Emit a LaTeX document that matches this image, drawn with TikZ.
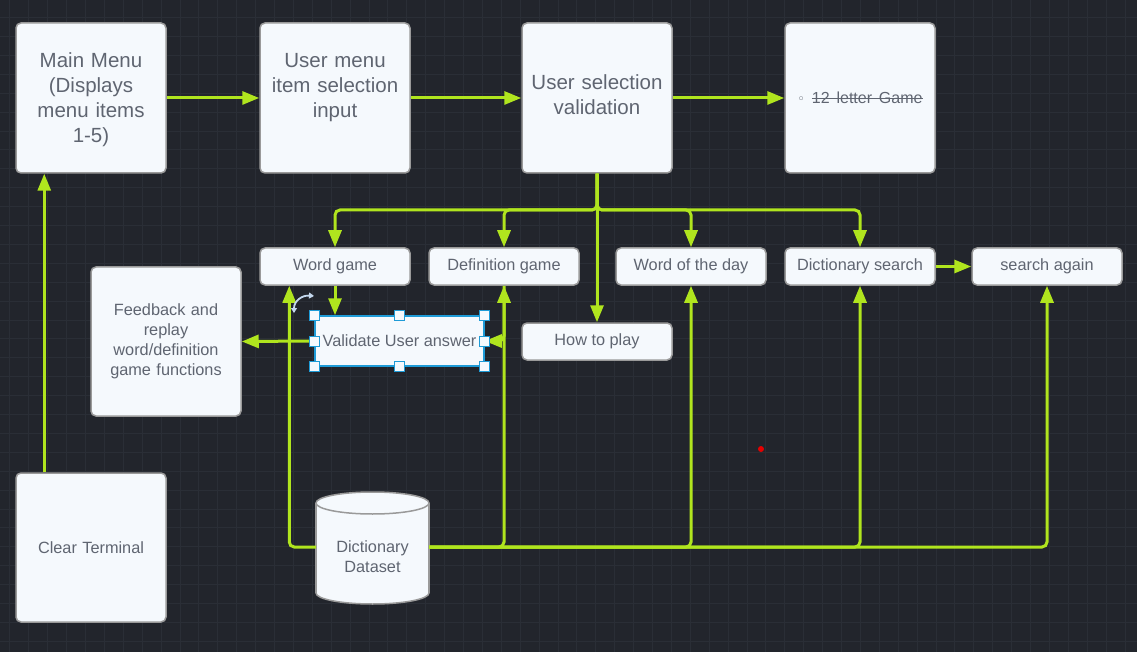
\documentclass[tikz,border=0pt]{standalone}
\usepackage{fontspec}
\setmainfont{Liberation Sans}
\newfontfamily\dejavu{DejaVu Sans}
\usetikzlibrary{arrows.meta}
\definecolor{bg}{HTML}{22252C}
\definecolor{gridc}{HTML}{2A2E36}
\definecolor{boxfill}{HTML}{F5F9FD}
\definecolor{boxline}{HTML}{9A9A9A}
\definecolor{txt}{HTML}{5F6571}
\definecolor{lime}{HTML}{B0E51E}
\definecolor{selblue}{HTML}{1E9BD7}
\definecolor{rotc}{HTML}{C4D8EE}
\newcommand{\mystrike}[1]{{\setbox0\hbox{#1}\rlap{\rule[0.3em]{\wd0}{1.2pt}}\box0}}
\begin{document}
\begin{tikzpicture}[x=1pt,y=-1pt,
  box/.style={draw=boxline, line width=1.5pt, fill=boxfill, rounded corners=5pt, text=txt, align=center, inner sep=0pt},
  big/.style={box, minimum width=150pt, minimum height=150pt, font=\fontsize{20.5}{25}\selectfont, text width=146pt},
  small/.style={box, minimum width=150pt, minimum height=37pt, font=\fontsize{16.3}{20}\selectfont},
  sfont/.style={font=\fontsize{16.3}{20}\selectfont},
  conn/.style={draw=lime, line width=3pt, -{Triangle[length=17pt,width=13pt]}, rounded corners=5pt},
  handle/.style={draw=selblue, fill=boxfill, line width=1pt, minimum size=10pt, inner sep=0pt, rounded corners=0pt},
]
\useasboundingbox (0,0) rectangle (1137,652);
\fill[bg] (0,0) rectangle (1137,652);
\foreach \i in {0,...,60} \draw[gridc, line width=0.7pt] (9.8+18.9*\i,0) -- ++(0,652);
\foreach \j in {-1,...,34} \draw[gridc, line width=0.7pt] (0,17.5+18.9*\j) -- ++(1137,0);

% top row
\node[big] (main) at (91,98) {\rule{0pt}{19pt}Main Menu\\(Displays\\menu items\\1-5)};
\node[big] (umenu) at (335,98) {User menu\\item selection\\input\\[-0.5pt]\mbox{}};
\node[big] (valid) at (597,98) {User selection\\validation\\[-19pt]\mbox{}};
\node[big] (twelve) at (860,98) {\fontsize{16}{20}\selectfont{\dejavu\fontsize{13}{14}\selectfont\char"25E6}\ \mystrike{12 letter Game}};

% second row
\node[small] (word) at (335,266.5) {Word game};
\node[small] (defn) at (504,266.5) {Definition game};
\node[small] (wotd) at (691,266.5) {Word of the day};
\node[small] (dsearch) at (860,266.5) {Dictionary search};
\node[small] (again) at (1047,266.5) {search again};
\node[small] (howto) at (597,341.5) {How to play};

\node[box, sfont, minimum width=150pt, minimum height=149pt, text width=146pt] (feedback) at (166,341.5) {Feedback and\\replay\\word/definition\\game functions};
\node[box, sfont, minimum width=150pt, minimum height=149pt, text width=146pt] (clear) at (91,547.5) {Clear Terminal};

\node[box, sfont, draw=selblue, rounded corners=0pt, minimum width=169pt, minimum height=50pt] (validate) at (399.5,341) {Validate User answer};

% cylinder
\filldraw[fill=boxfill, draw=boxline, line width=1.5pt] (372.5,593) ellipse (56.5 and 11);
\fill[boxfill] (316,503) rectangle (429,593);
\draw[boxline, line width=1.5pt] (316,503) -- (316,593) (429,503) -- (429,593);
\filldraw[fill=boxfill, draw=boxline, line width=1.5pt] (372.5,503) ellipse (56.5 and 11);
\node[sfont, text=txt, align=center] (dataset) at (372.5,557) {Dictionary\\Dataset};
\coordinate (dsl) at (316,547);
\coordinate (dsr) at (429,547);
\coordinate (split) at (597,210);

% connectors
\draw[conn] (main.east) -- (umenu.west);
\draw[conn] (umenu.east) -- (valid.west);
\draw[conn] (valid.east) -- (twelve.west);
\draw[conn] (valid.south) -- (howto.north);
\draw[conn] (valid.south) -- (split) -| (word.north);
\draw[conn] (valid.south) -- (split) -| (defn.north);
\draw[conn] (valid.south) -- (split) -| (wotd.north);
\draw[conn] (valid.south) -- (split) -| (dsearch.north);
\draw[conn] (word.south) -- (word.south |- validate.north);
\draw[conn] (validate.west) -- (feedback.east);
\draw[conn] (defn.south) |- (validate.east);
\draw[conn] (dsl) -| ([xshift=30pt]word.south west);
\draw[conn] (dsr) -| (defn.south);
\draw[conn] (dsr) -| (wotd.south);
\draw[conn] (dsr) -| (dsearch.south);
\draw[conn] (dsr) -| (again.south);
\draw[conn] (dsearch.east) -- (again.west);
\draw[conn] ([xshift=29pt]clear.north west) -- ([xshift=29pt]main.south west);

% selection handles
\foreach \a [count=\k] in {north west, north, north east, west, east, south west, south, south east}
  \node[handle] (h\k) at (validate.\a) {};
\draw[rotc, line width=1.8pt, {Triangle[length=5pt,width=6pt]}-{Triangle[length=5pt,width=6pt]}] (294,313) .. controls (294,301) and (302,295) .. (314,296);

\fill[red!90!black] (761,449) circle (3pt);
\end{tikzpicture}
\end{document}
